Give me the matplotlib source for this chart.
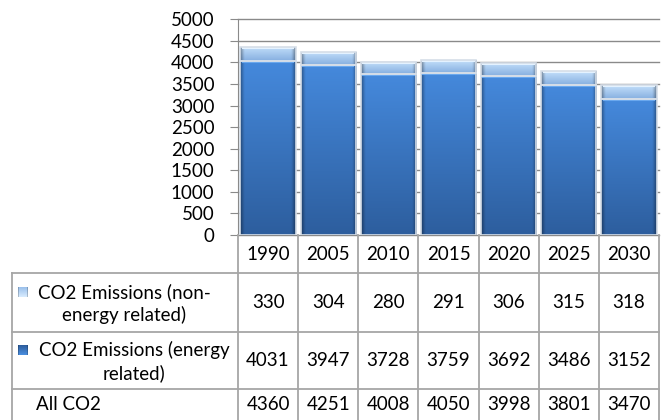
import numpy as np
import matplotlib
matplotlib.use('Agg')
import matplotlib.pyplot as plt
from matplotlib.patches import Rectangle
from matplotlib.colors import to_rgb


years = ['1990', '2005', '2010', '2015', '2020', '2025', '2030']
non_energy = [330, 304, 280, 291, 306, 315, 318]
energy = [4031, 3947, 3728, 3759, 3692, 3486, 3152]
all_co2 = [4360, 4251, 4008, 4050, 3998, 3801, 3470]
row_labels = ['CO2 Emissions (non-\nenergy related)',
              'CO2 Emissions (energy\nrelated)',
              'All CO2']
y_ticks = list(range(0, 5001, 500))

W, H = 666, 420
plt.rcParams['font.family'] = ['Lato', 'DejaVu Sans']
FS = 13.5
GRID = '#8a8a8a'
TABLE_LINE = '#a6a6a6'


def px_box(x0, y0, x1, y1):
  return [x0 / W, 1 - y1 / H, (x1 - x0) / W, (y1 - y0) / H]


def shade(bottom, top, nx=40, ny=80, edge=0.35):
  # vertical gradient bottom->top, darker bevel on the left/right edges
  b = np.array(to_rgb(bottom))
  t = np.array(to_rgb(top))
  v = np.linspace(0, 1, ny)[:, None, None]
  u = np.linspace(0, 1, nx)[None, :, None]
  img = b + (t - b) * v
  d = np.clip((np.abs(u - 0.5) * 2 - 0.86) / 0.14, 0, 1)
  img = img * (1 - edge * d)
  return np.clip(img, 0, 1) * np.ones((ny, nx, 3))


def fill_bars(ax, bars, bottom, top):
  for p in bars:
    x0, y0 = p.get_xy()
    im = ax.imshow(shade(bottom, top), origin='lower', aspect='auto',
                   extent=(x0, x0 + p.get_width(), y0, y0 + p.get_height()),
                   interpolation='bilinear', zorder=2)
    im.set_clip_path(p)


fig = plt.figure(figsize=(W / 100, H / 100), dpi=100)

#####################################
# bars
ax = fig.add_axes(px_box(238, 19.3, 659, 235))
x = np.arange(len(years))
bw = 0.92
b1 = ax.bar(x, energy, bw, color='#3a78c8', edgecolor='none', zorder=1)
b2 = ax.bar(x, non_energy, bw, bottom=energy, color='#a2c6ef', edgecolor='none', zorder=1)
fill_bars(ax, b1, '#2d5e9e', '#4589dc')
fill_bars(ax, b2, '#86afe0', '#c4e0fb')

# highlight lines at the top of each segment
for xi, e, n in zip(x, energy, non_energy):
  ax.plot([xi - bw / 2 + 0.04, xi + bw / 2 - 0.04], [e - 25, e - 25], color='#6aa8ee', lw=1.5, zorder=3)
  ax.plot([xi - bw / 2 + 0.04, xi + bw / 2 - 0.04], [e + n - 25, e + n - 25], color='#e4f2ff', lw=1.5, zorder=3)

ax.bar(x, energy, bw, fill=False, edgecolor='#d6dee8', lw=1.2, zorder=4)
ax.bar(x, non_energy, bw, bottom=energy, fill=False, edgecolor='#d6dee8', lw=1.2, zorder=4)

ax.set_xlim(-0.5, len(years) - 0.5)
ax.set_ylim(0, 5000)
ax.set_yticks(y_ticks)
ax.set_xticks([])
ax.tick_params(axis='y', length=6, color=GRID, pad=11, labelsize=FS)
ax.yaxis.grid(True, color=GRID, lw=1)
ax.set_axisbelow(True)
for gl in ax.get_ygridlines():
  gl.set_clip_on(False)
for s in ['top', 'right', 'bottom']:
  ax.spines[s].set_visible(False)
ax.spines['left'].set_color(GRID)

#####################################
# data table
tab = fig.add_axes(px_box(12, 235, 659, 420))
col_w = 421 / len(years)
x_left = -0.5 - (238 - 12) / col_w
tab.set_xlim(x_left, len(years) - 0.5)
tab.set_ylim(185, 0)
tab.axis('off')

row_edges = [0, 38, 97, 154, 185]
for i in range(len(years) + 1):
  tab.plot([i - 0.5, i - 0.5], [0, 185], color=TABLE_LINE, lw=1.3, clip_on=False)
tab.plot([x_left, x_left], [row_edges[1], 185], color=TABLE_LINE, lw=1.3, clip_on=False)
for y in row_edges[1:4]:
  tab.plot([x_left, len(years) - 0.5], [y, y], color=TABLE_LINE, lw=1.3, clip_on=False)

rows = [non_energy, energy, all_co2]
row_mid = [(row_edges[i] + row_edges[i + 1]) / 2 for i in range(len(row_edges) - 1)]

for i, yr in enumerate(years):
  tab.text(i, row_mid[0], yr, ha='center', va='center', fontsize=FS)
  for r, vals in enumerate(rows):
    tab.text(i, row_mid[r + 1], str(vals[i]), ha='center', va='center', fontsize=FS)

px = lambda p: x_left + (p - 12) / col_w
marker_cols = [('#9cc1ec', '#d6eafd'), ('#2d5e9e', '#4a8ddd')]
label_cx = [124, 134]
for r, label in enumerate(row_labels):
  ym = row_mid[r + 1]
  if r < 2:
    tab.text(px(label_cx[r]), ym + 1, label, ha='center', va='center', fontsize=FS,
             multialignment='center', linespacing=1.3)
    # legend key
    key = Rectangle((px(18), ym - 15.5), 10 / col_w, 10, transform=tab.transData,
                    facecolor='none', edgecolor='none')
    tab.add_patch(key)
    im = tab.imshow(shade(*marker_cols[r], nx=10, ny=10, edge=0.2), origin='upper',
                    aspect='auto', extent=(px(18), px(28), ym - 5.5, ym - 15.5), zorder=3)
    im.set_clip_path(key)
  else:
    tab.text(px(36), ym, label, ha='left', va='center', fontsize=FS)

tab.set_xlim(x_left, len(years) - 0.5)
tab.set_ylim(185, 0)

fig.savefig('out.png', dpi=100)
